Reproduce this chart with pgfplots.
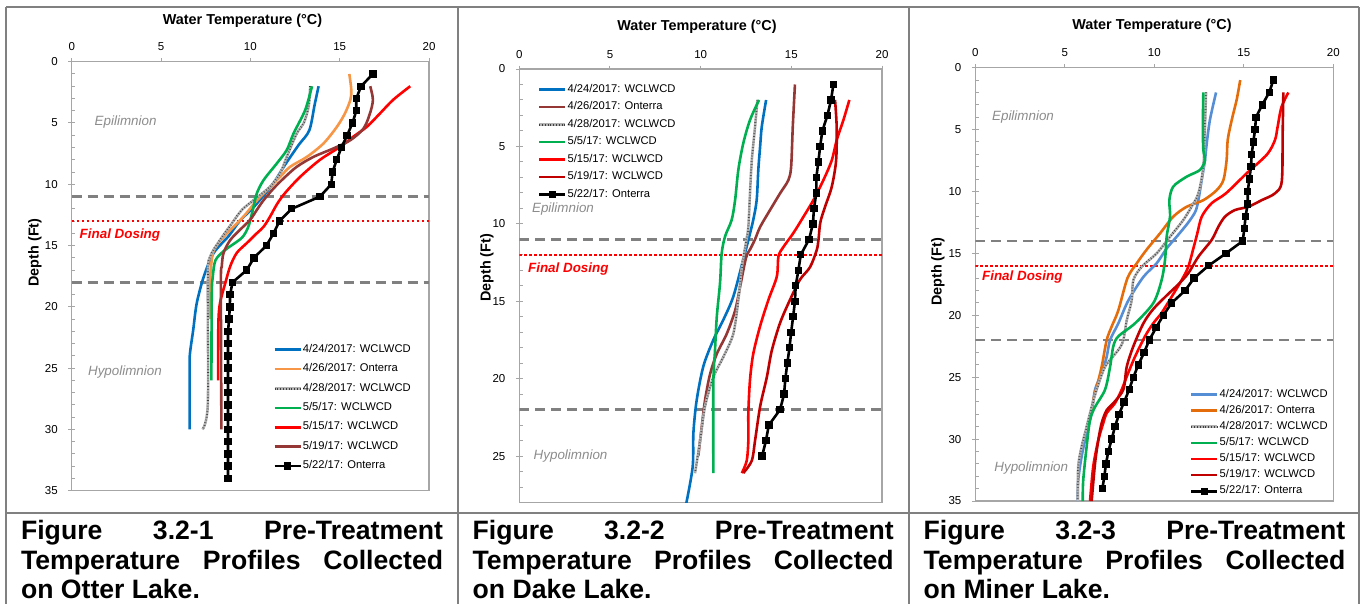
\documentclass[border=0pt]{standalone}
\usepackage{fontspec}
\setmainfont{Liberation Sans}
\usepackage{pgfplots}
\pgfplotsset{compat=1.18}
\definecolor{cBlue}{HTML}{0070C0}
\definecolor{cBlueL}{HTML}{558ED5}
\definecolor{cOrange}{HTML}{F79646}
\definecolor{cOrangeD}{HTML}{E46C0A}
\definecolor{cGreen}{HTML}{00B050}
\definecolor{cRed}{HTML}{FF0000}
\definecolor{cBrown}{HTML}{953735}
\definecolor{cDRed}{HTML}{C00000}
\definecolor{cGrid}{HTML}{808080}
\definecolor{cAxis}{HTML}{A6A6A6}
\definecolor{cAnno}{HTML}{8C8C8C}
\pgfplotsset{
  lake/.style={
    scale only axis,
    y dir=reverse,
    xmin=0, xmax=20, ymin=0,
    xtick={0,5,10,15,20},
    xtick pos=right, xticklabel pos=right,
    ytick pos=left, yticklabel pos=left,
    axis line style={draw=cAxis, line width=0.6pt},
    tick style={draw=cAxis, line width=0.5pt},
    tick align=outside,
    major tick length=1.7pt,
    minor tick length=1.7pt,
    minor tick style={xshift=1.7pt},
    ticklabel style={font=\fontsize{5.75}{6}\selectfont, text=black},
    xticklabel style={yshift=0.1pt},
    yticklabel style={xshift=-1.75pt},
    /pgf/number format/assume math mode=true,
    legend cell align=left,
    legend style={draw=none, fill=none, font=\fontsize{5.6}{6}\selectfont,
      inner sep=0pt, outer sep=0pt, nodes={inner sep=0.5pt}},
    legend image code/.code={\draw[mark repeat=2,mark phase=2,##1] plot coordinates {(0pt,0pt) (6.5pt,0pt) (13pt,0pt)};},
  },
  myser/.style={line width=1.3pt, smooth, tension=0.5, no markers},
  myg/.style={myser, draw=gray!60, postaction={draw=black!75, line width=1pt, dash pattern=on 0.3pt off 1.1pt}},
  myblk/.style={black, line width=1.3pt, mark=square*, mark size=1.6pt, mark options={solid, line width=0.5pt}},
  mythermo/.style={forget plot, draw=cGrid, line width=1.25pt, dash pattern=on 5pt off 3pt},
  mydose/.style={forget plot, draw=cRed, line width=1.2pt, dash pattern=on 1.1pt off 1.4pt},
}
\tikzset{
  myepi/.style={anchor=west, inner sep=0pt, text=cAnno, font=\fontsize{6.7}{8}\selectfont\itshape},
  myfd/.style={anchor=west, inner sep=0pt, text=cRed, font=\fontsize{6.7}{8}\selectfont\bfseries\itshape},
  myttl/.style={inner sep=0pt, font=\fontsize{7.2}{8}\selectfont\bfseries},
  mycap/.style={anchor=base west, inner sep=0pt, font=\fontsize{13.3}{15}\selectfont\bfseries},
}
\begin{document}
\begin{tikzpicture}
\path[use as bounding box] (0,0) rectangle (680pt,-302pt);
% table lines
\begin{scope}[draw=cGrid, line width=1pt]
\draw (3pt,-3.35pt) -- (679.6pt,-3.35pt);
\draw (3pt,-3.35pt) -- (3pt,-302pt);
\draw (228.75pt,-3.35pt) -- (228.75pt,-302pt);
\draw (454.25pt,-3.35pt) -- (454.25pt,-302pt);
\draw (679.3pt,-3.35pt) -- (679.3pt,-302pt);
\draw (3pt,-256.65pt) -- (679.6pt,-256.65pt);
\end{scope}

% ---------------- Panel 1: Otter Lake ----------------
\begin{axis}[lake, at={(35.85pt,-245.35pt)}, anchor=south west,
  width=178.65pt, height=214.5pt, ymax=35,
  ytick={0,5,...,35}, minor ytick={0,1,...,35},
  legend style={at={(axis cs:11.28,22.96)}, anchor=north west, row sep=3.15pt}]
\addplot[mythermo] coordinates {(0,11) (20,11)};
\addplot[mythermo] coordinates {(0,18) (20,18)};
\addplot[mydose] coordinates {(0,13) (20,13)};
\addplot[myser, cBlue] coordinates {(13.82,2) (13.6,3.5) (13.3,5.6) (12.7,6.8) (11.9,8.5) (11.3,9.9) (10.7,11.0) (10.1,12.0) (9.4,13.0) (8.8,14.2) (7.95,15.6) (7.4,17.5) (7.0,19.7) (6.8,21.9) (6.62,23.8) (6.6,25) (6.6,30)};
\addlegendentry{4/24/2017: WCLWCD}
\addplot[myser, cOrange] coordinates {(15.54,1) (15.65,2.3) (15.6,3.1) (15.3,4.2) (14.85,5.3) (14.1,6.66) (13.17,7.76) (12.23,8.57) (11.67,9.39) (11.2,10.1) (10.7,10.8) (10.2,11.6) (9.7,12.5) (9.24,13.2) (8.5,14.3) (7.95,15.4) (7.8,16.7) (7.75,18) (7.75,21)};
\addlegendentry{4/26/2017: Onterra}
\addplot[myg] coordinates {(13.35,2) (13.26,3.67) (12.98,5.03) (12.6,5.85) (12.04,7.76) (11.67,9.1) (11.1,10.2) (10.18,11.3) (9.52,12.1) (8.96,13.2) (8.3,14.55) (7.75,15.9) (7.62,17.55) (7.62,27.9) (7.32,30)};
\addlegendentry{4/28/2017: WCLWCD}
\addplot[myser, cGreen] coordinates {(13.45,2) (13.07,3.94) (12.42,5.85) (12.04,7.2) (11.48,8.3) (10.74,9.66) (10.36,10.75) (10.18,11.84) (10.0,12.9) (9.85,13.6) (9.5,14.4) (8.55,15.4) (8.05,16.2) (7.9,17.5) (7.84,19) (7.82,26)};
\addlegendentry{5/5/17: WCLWCD}
\addplot[myser, cRed] coordinates {(18.95,2) (18.0,3.1) (17.27,4.2) (16.53,5.3) (15.78,6.1) (15.03,6.94) (13.9,8.0) (12.79,9.39) (11.95,10.7) (11.5,11.6) (11.1,12.65) (10.74,13.47) (10.36,14.0) (9.8,14.8) (9.24,15.6) (8.87,16.7) (8.59,18.1) (8.3,19.7) (8.21,21.4) (8.2,26)};
\addlegendentry{5/15/17: WCLWCD}
\addplot[myser, cBrown] coordinates {(16.71,2) (16.86,3.1) (16.7,4.2) (16.34,5.44) (15.6,6.4) (14.66,7.07) (13.54,7.76) (12.6,8.57) (11.86,9.52) (11.3,10.34) (10.74,11.3) (10.36,12.1) (9.99,12.9) (9.43,13.7) (8.87,14.56) (8.5,15.6) (8.4,16.7) (8.35,18.1) (8.38,30)};
\addlegendentry{5/19/17: WCLWCD}
\addplot[myblk] coordinates {(16.86,1) (16.2,2) (15.93,3) (15.93,4) (15.72,5) (15.42,6) (15.1,7) (14.83,8) (14.6,9) (14.53,10) (13.9,11) (12.32,12) (11.63,13) (11.3,14) (10.9,15) (10.2,16) (9.8,17) (9.0,18) (8.87,19) (8.85,20) (8.81,21) (8.75,22) (8.75,23) (8.75,24) (8.75,25) (8.75,26) (8.75,27) (8.75,28) (8.75,29) (8.75,30) (8.75,31) (8.75,32) (8.75,33) (8.75,34)};
\addlegendentry{5/22/17: Onterra}
\end{axis}

% ---------------- Panel 2: Dake Lake ----------------
\begin{axis}[lake, at={(259.65pt,-251.25pt)}, anchor=south west,
  width=181.35pt, height=216.75pt, ymax=28,
  ytick={0,5,...,25}, minor ytick={0,1,...,28},
  legend style={at={(axis cs:1.03,0.9)}, anchor=north west, row sep=2.2pt}]
\addplot[mythermo] coordinates {(0,11) (20,11)};
\addplot[mythermo] coordinates {(0,22) (20,22)};
\addplot[mydose] coordinates {(0,12) (20,12)};
\addplot[myser, cBlue] coordinates {(13.61,2) (13.37,3.73) (13.28,5.0) (13.18,6.5) (13.09,8.46) (12.9,9.75) (12.63,11.05) (12.35,12.3) (11.8,14.7) (11.25,16.2) (10.7,17.5) (10.15,19.2) (9.78,21.4) (9.6,23.5) (9.56,25.7) (9.2,28.1)};
\addlegendentry{4/24/2017: WCLWCD}
\addplot[myser, cBrown] coordinates {(15.2,1) (15.08,3.73) (14.99,6.3) (14.84,7.17) (14.38,8.03) (13.83,9.1) (13.28,10.2) (13.0,11.0) (12.75,11.6) (12.5,12.2) (12.17,14.1) (11.9,15.6) (11.44,17.1) (10.89,18.4) (10.52,19.7) (10.24,21.4) (10.06,23.1) (9.87,25.0)};
\addlegendentry{4/26/2017: Onterra}
\addplot[myg] coordinates {(13.13,2) (13.0,3.73) (12.82,5.9) (12.72,8.03) (12.63,10.2) (12.5,11.2) (12.27,12.8) (12.08,14.9) (11.8,17.1) (11.25,18.6) (10.7,19.9) (10.24,21.8) (9.97,24.0) (9.69,26.1)};
\addlegendentry{4/28/2017: WCLWCD}
\addplot[myser, cGreen] coordinates {(13.22,2) (12.72,3.3) (12.35,4.8) (12.08,6.5) (11.9,8.46) (11.71,9.75) (11.35,10.8) (11.16,11.9) (11.07,13.8) (10.89,16.0) (10.79,18.2) (10.7,20.3) (10.7,26.1)};
\addlegendentry{5/5/17: WCLWCD}
\addplot[myser, cRed] coordinates {(18.2,2) (17.87,3.3) (17.5,4.6) (17.23,5.9) (16.77,7.17) (16.22,8.46) (15.67,9.54) (15.11,10.6) (14.56,11.5) (14.29,12.1) (14.2,13.4) (13.74,14.9) (13.28,16.6) (12.9,18.4) (12.72,20.1) (12.63,22.2) (12.63,24.0) (12.54,25.3) (12.27,26.1)};
\addlegendentry{5/15/17: WCLWCD}
\addplot[myser, cDRed] coordinates {(17.41,2) (17.5,3.73) (17.47,5.9) (17.23,7.6) (16.86,8.9) (16.6,9.9) (16.5,11.0) (16.4,11.7) (16.03,12.8) (15.48,13.6) (14.93,14.9) (14.38,16.4) (13.92,18.2) (13.65,19.9) (13.28,21.8) (13.0,24.0) (12.82,25.3) (12.35,26.1)};
\addlegendentry{5/19/17: WCLWCD}
\addplot[myblk] coordinates {(17.32,1) (17.19,2) (16.99,3) (16.71,4) (16.59,5) (16.49,6) (16.38,7) (16.38,8) (16.25,9) (16.19,10) (15.98,11) (15.52,12) (15.39,13) (15.24,14) (15.2,15) (15.1,16) (14.99,17) (14.9,18) (14.78,19) (14.67,20) (14.6,21) (14.38,22) (13.76,23) (13.6,24) (13.39,25)};
\addlegendentry{5/22/17: Onterra}
\end{axis}

% ---------------- Panel 3: Miner Lake ----------------
\begin{axis}[lake, at={(487.65pt,-250.5pt)}, anchor=south west,
  width=179pt, height=216.65pt, ymax=35,
  ytick={0,5,...,35}, minor ytick={0,1,...,35},
  legend style={at={(axis cs:12.0,25.87)}, anchor=north west, row sep=1.5pt}]
\addplot[mythermo] coordinates {(0,14) (20,14)};
\addplot[mythermo] coordinates {(0,22) (20,22)};
\addplot[mydose] coordinates {(0,16) (20,16)};
\addplot[myser, cBlueL] coordinates {(13.45,2) (13.11,4.2) (12.93,6.1) (12.83,7.46) (12.65,9.07) (12.46,10.7) (12.3,11.6) (11.9,12.5) (11.25,13.65) (10.69,14.6) (10.13,15.8) (9.39,16.9) (8.55,18.8) (7.99,20.65) (7.53,22.0) (7.34,23.35) (7.06,24.7) (6.69,26.0) (6.5,27.9) (6.22,29.5) (5.94,31.4) (5.75,33.3) (5.72,35)};
\addlegendentry{4/24/2017: WCLWCD}
\addplot[myser, cOrangeD] coordinates {(14.8,1) (14.6,2.6) (14.33,4.2) (14.1,5.84) (14.04,7.46) (13.86,9.07) (13.48,9.9) (12.74,10.7) (11.81,11.23) (11.06,12.03) (10.32,13.38) (9.57,14.7) (9.02,15.8) (8.5,17.0) (7.99,19.6) (7.62,20.9) (7.34,22.0) (7.06,24.15) (6.78,25.8) (6.59,26.85) (6.5,28)};
\addlegendentry{4/26/2017: Onterra}
\addplot[myg] coordinates {(12.89,2) (12.83,4.77) (12.74,8.0) (12.46,10.15) (12.09,11.2) (11.62,12.3) (10.88,13.65) (10.13,15.0) (9.3,16.07) (8.83,17.15) (8.74,18.76) (8.46,20.4) (8.27,22.0) (7.99,22.8) (7.25,24.15) (6.78,26.0) (6.5,27.4) (6.22,29.0) (5.94,30.6) (5.75,32.2) (5.72,35)};
\addlegendentry{4/28/2017: WCLWCD}
\addplot[myser, cGreen] coordinates {(12.74,2) (12.71,4.77) (12.74,6.65) (12.83,7.46) (12.55,8.26) (11.81,8.8) (11.06,9.6) (10.84,10.7) (10.88,12.0) (10.69,13.65) (10.6,15.5) (10.41,17.15) (9.95,19.0) (8.92,20.65) (7.99,21.7) (7.71,22.5) (7.53,24.15) (7.25,26.0) (6.69,27.4) (6.41,28.45) (6.22,30.6) (6.03,33.3) (6.0,35)};
\addlegendentry{5/5/17: WCLWCD}
\addplot[myser, cRed] coordinates {(17.49,2) (17.1,3.2) (16.89,4.77) (16.74,5.84) (16.3,7.0) (15.16,8.53) (14.0,10.15) (13.2,10.95) (12.65,12.03) (12.4,13.4) (12.2,14.5) (11.9,16.07) (11.53,17.15) (10.97,18.5) (10.41,19.8) (9.94,20.65) (9.48,21.7) (8.92,23.35) (8.46,24.95) (8.18,26.0) (7.8,27.1) (7.34,27.9) (7.15,28.7) (6.87,30.1) (6.59,32.2) (6.41,35)};
\addlegendentry{5/15/17: WCLWCD}
\addplot[myser, cDRed] coordinates {(17.21,2) (17.17,5.3) (17.12,9.2) (16.74,10.15) (16.0,10.7) (15.25,11.23) (14.5,11.5) (13.95,12.03) (13.58,12.84) (13.21,13.9) (12.46,15.27) (11.9,16.6) (11.34,17.5) (10.69,18.4) (9.94,19.5) (9.39,20.65) (8.83,22.5) (8.46,24.15) (8.27,26.0) (7.71,27.1) (7.34,27.65) (7.06,28.7) (6.87,30.1) (6.69,31.95) (6.5,35)};
\addlegendentry{5/19/17: WCLWCD}
\addplot[myblk] coordinates {(16.65,1) (16.42,2) (16.03,3) (15.68,4) (15.63,5) (15.53,6) (15.44,7) (15.4,8) (15.31,9) (15.22,10) (15.22,11) (15.1,12) (15.03,13) (14.94,14) (14.0,15) (13.02,16) (12.22,17) (11.72,18) (10.97,19) (10.5,20) (10.1,21) (9.72,22) (9.43,23) (9.11,24) (8.83,25) (8.6,26) (8.31,27) (8.03,28) (7.8,29) (7.62,30) (7.43,31) (7.3,32) (7.21,33) (7.1,34)};
\addlegendentry{5/22/17: Onterra}
\end{axis}

% ---------------- Titles, labels, annotations ----------------
\node[myttl] at (121.25pt,-10.5pt) {Water Temperature (°C)};
\node[myttl] at (348.5pt,-13.3pt) {Water Temperature (°C)};
\node[myttl] at (576pt,-12.8pt) {Water Temperature (°C)};
\node[myttl, rotate=90] at (17.5pt,-126.25pt) {Depth (Ft)};
\node[myttl, rotate=90] at (243.5pt,-134pt) {Depth (Ft)};
\node[myttl, rotate=90] at (469pt,-136pt) {Depth (Ft)};

\node[myepi] at (47.15pt,-60.85pt) {Epilimnion};
\node[myfd] at (39.65pt,-117.5pt) {Final Dosing};
\node[myepi] at (43.85pt,-185.85pt) {Hypolimnion};

\node[myepi] at (265.85pt,-104.65pt) {Epilimnion};
\node[myfd] at (263.85pt,-134.65pt) {Final Dosing};
\node[myepi] at (266.65pt,-227.85pt) {Hypolimnion};

\node[myepi] at (495.85pt,-58.65pt) {Epilimnion};
\node[myfd] at (490.85pt,-138.35pt) {Final Dosing};
\node[myepi] at (497pt,-233.85pt) {Hypolimnion};

% ---------------- Captions ----------------
\node[mycap] at (10.35pt,-269.65pt) {\makebox[211pt][s]{Figure 3.2-1 Pre-Treatment}};
\node[mycap] at (10.35pt,-284.65pt) {\makebox[211pt][s]{Temperature Profiles Collected}};
\node[mycap] at (10.35pt,-299.15pt) {on Otter Lake.};

\node[mycap] at (236.15pt,-269.65pt) {\makebox[210.5pt][s]{Figure 3.2-2 Pre-Treatment}};
\node[mycap] at (236.15pt,-284.65pt) {\makebox[210.5pt][s]{Temperature Profiles Collected}};
\node[mycap] at (236.15pt,-299.15pt) {on Dake Lake.};

\node[mycap] at (461.65pt,-269.65pt) {\makebox[210.8pt][s]{Figure 3.2-3 Pre-Treatment}};
\node[mycap] at (461.65pt,-284.65pt) {\makebox[210.8pt][s]{Temperature Profiles Collected}};
\node[mycap] at (461.65pt,-299.15pt) {on Miner Lake.};
\end{tikzpicture}
\end{document}
